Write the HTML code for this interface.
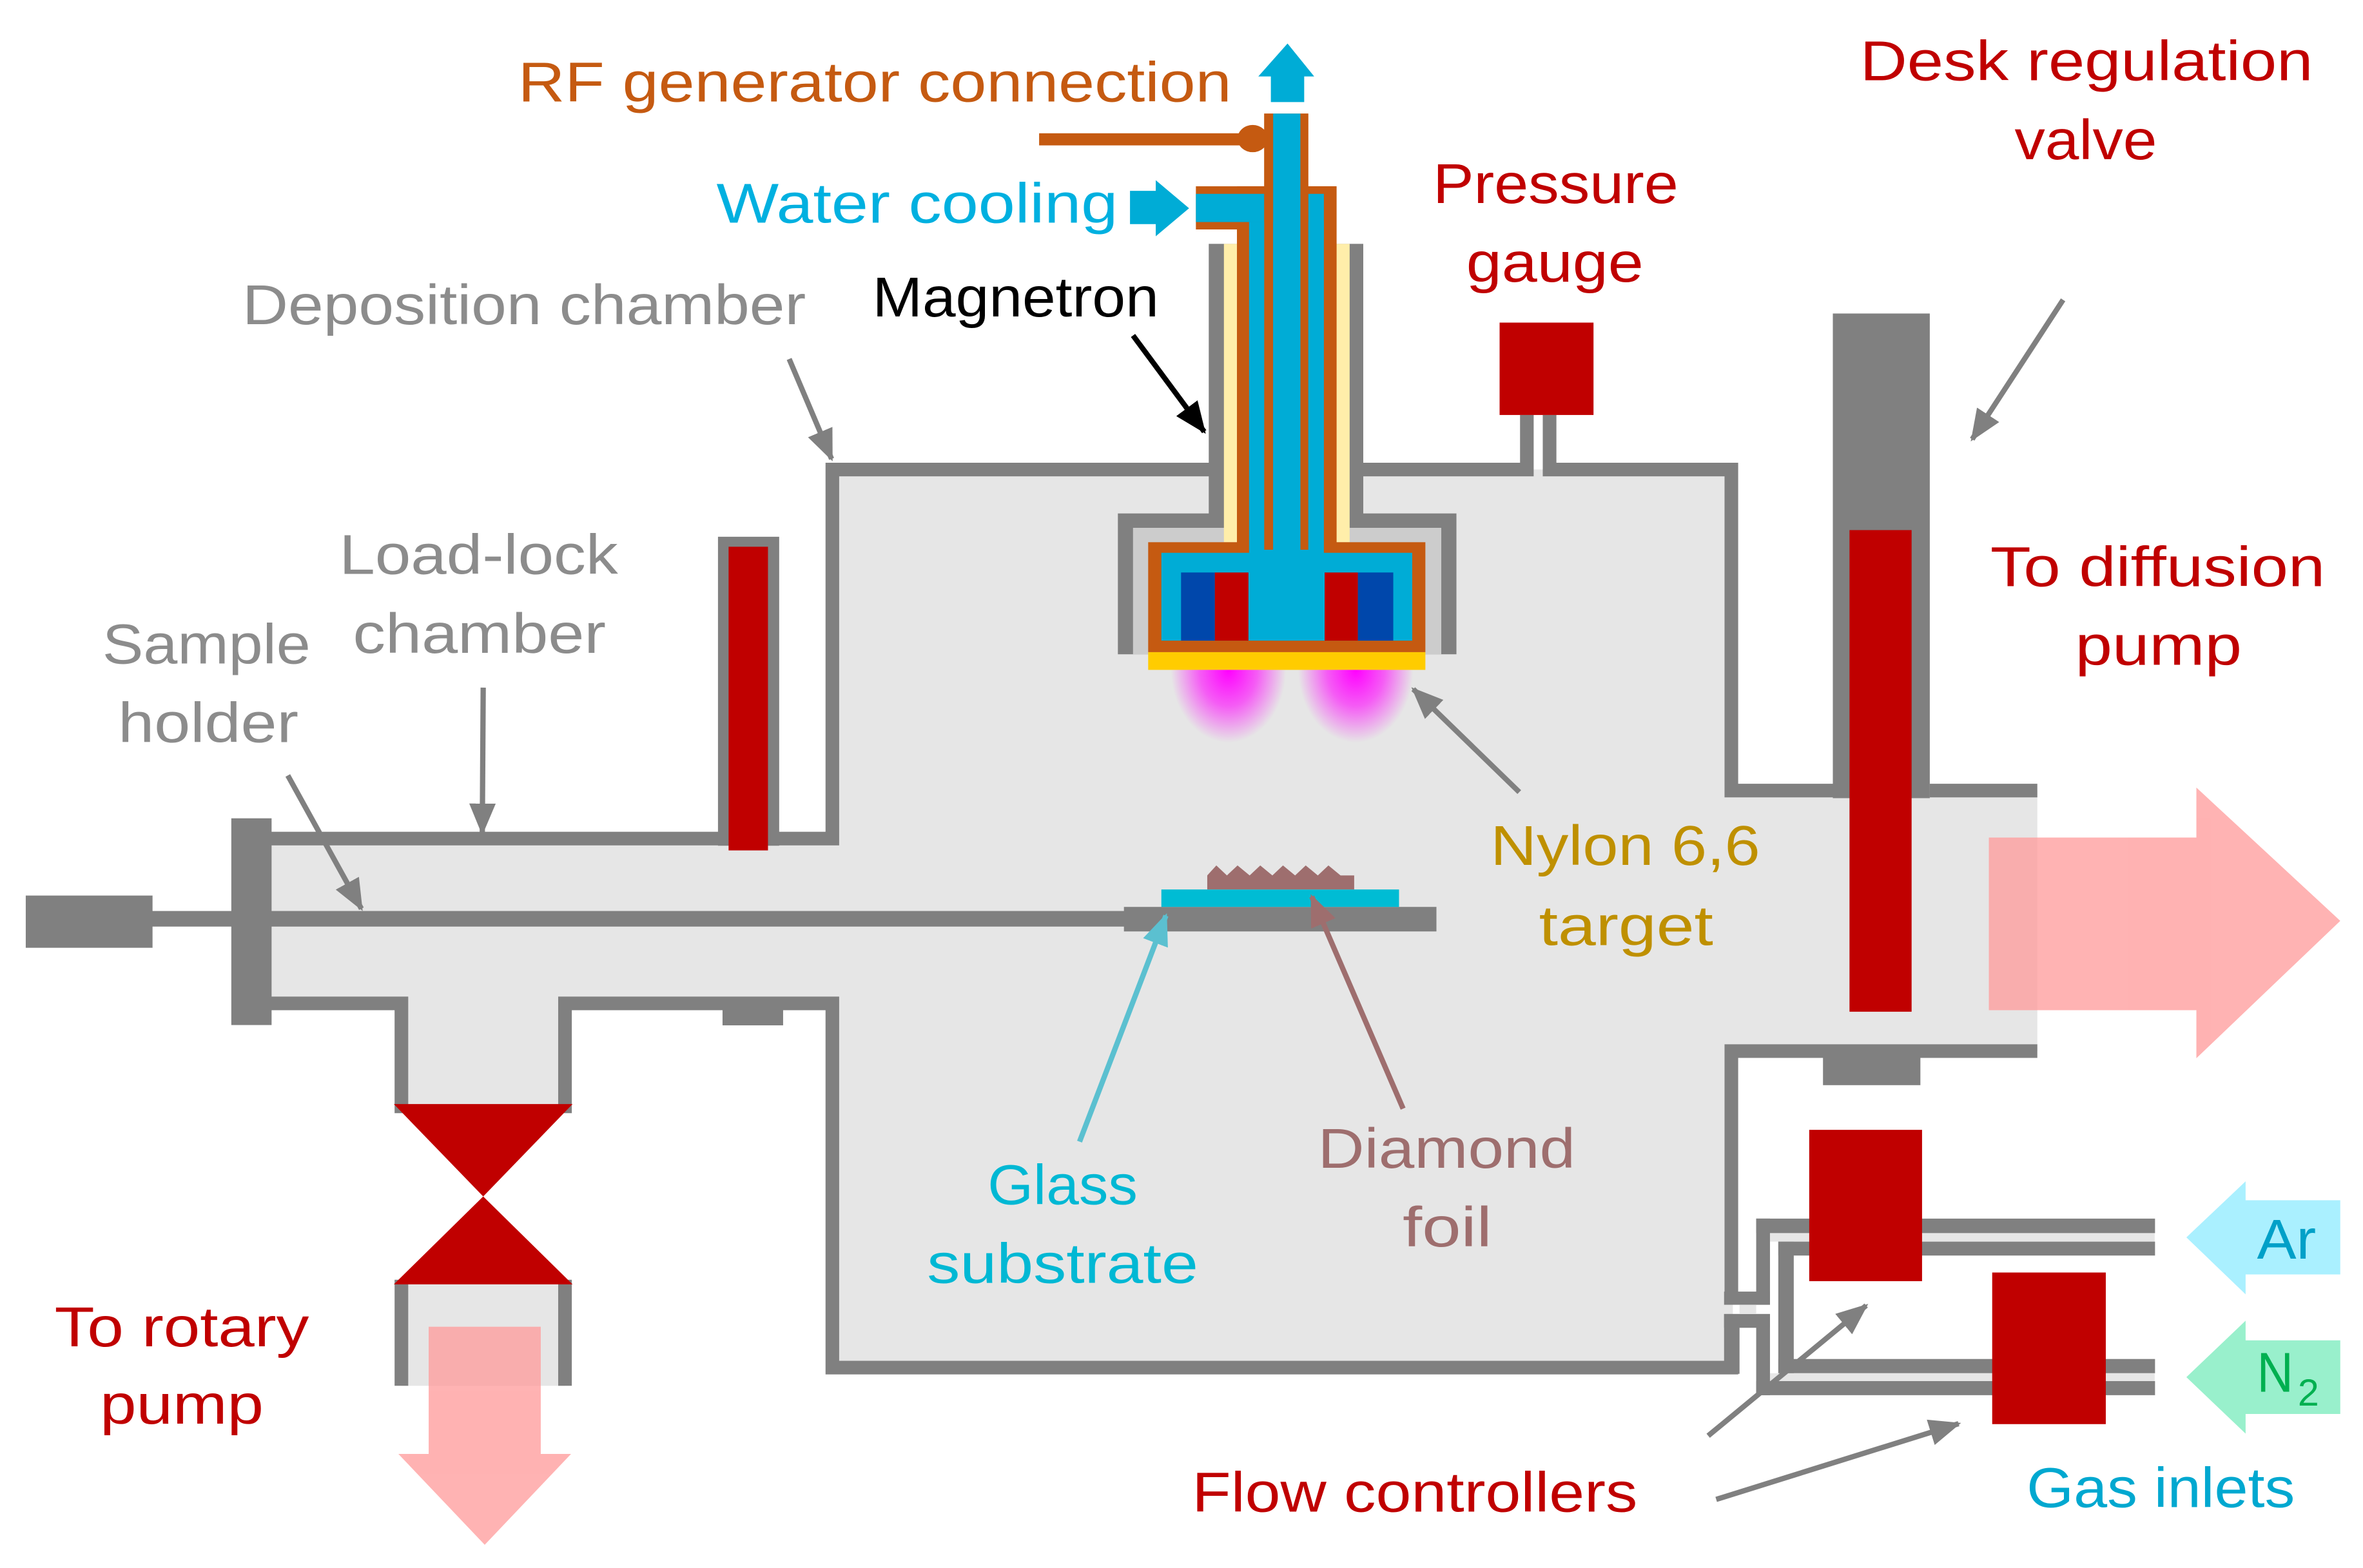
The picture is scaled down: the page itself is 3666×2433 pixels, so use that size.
<!DOCTYPE html>
<html><head><meta charset="utf-8"><style>
html,body{margin:0;padding:0;background:#fff;}
svg{display:block;}
text{font-family:"Liberation Sans",sans-serif;font-size:37px;}
</style></head><body>
<svg width="3666" height="2433" viewBox="0 0 1560 1035.3" preserveAspectRatio="none" xmlns="http://www.w3.org/2000/svg">
<defs>
<marker id="ag" markerWidth="6" markerHeight="5" refX="5.5" refY="2.5" orient="auto"><path d="M0,0 L6,2.5 L0,5 z" fill="#808080"/></marker>
<marker id="ab" markerWidth="6" markerHeight="5" refX="5.5" refY="2.5" orient="auto"><path d="M0,0 L6,2.5 L0,5 z" fill="#000"/></marker>
<marker id="ac" markerWidth="6" markerHeight="5" refX="5.5" refY="2.5" orient="auto"><path d="M0,0 L6,2.5 L0,5 z" fill="#5bc0d0"/></marker>
<marker id="ad" markerWidth="6" markerHeight="5" refX="5.5" refY="2.5" orient="auto"><path d="M0,0 L6,2.5 L0,5 z" fill="#9e6e6e"/></marker>
<radialGradient id="pl" cx="0.5" cy="0" r="0.5" fx="0.5" fy="0">
<stop offset="0" stop-color="#ff00ff" stop-opacity="1"/><stop offset="0.5" stop-color="#ff00ff" stop-opacity="0.6"/><stop offset="1" stop-color="#ff00ff" stop-opacity="0"/></radialGradient>
</defs>

<g fill="#e6e6e6">
<rect x="179" y="553" width="372" height="110"/>
<rect x="549" y="310" width="595" height="593"/>
<rect x="1143" y="522" width="202" height="172"/>
<rect x="265" y="662" width="108" height="73"/>
<rect x="265" y="845" width="108" height="70"/>
</g>

<g fill="none" stroke="#808080" stroke-width="9" stroke-linejoin="miter">
<polyline points="179,553.7 549.5,553.7 549.5,310 803,310"/>
<polyline points="900,310 1008,310 1008,274"/>
<polyline points="1023,274 1023,310 1143,310 1143,522 1210,522"/>
<polyline points="1274,522 1345,522"/>
<polyline points="1345,694 1143,694 1143,857"/>
<polyline points="1143,872 1143,903 549.5,903 549.5,662.5 373,662.5 373,735"/>
<polyline points="265,735 265,662.5 179,662.5"/>
<line x1="265" y1="845" x2="265" y2="915"/>
<line x1="373" y1="845" x2="373" y2="915"/>
</g>
<g fill="#808080">
<rect x="152.7" y="540.3" width="26.6" height="136.5"/>
<rect x="17" y="591.3" width="83.7" height="34.5"/>
<rect x="100" y="601.5" width="650" height="10.3"/>
<rect x="742" y="598.8" width="206.3" height="16.2"/>
<rect x="474" y="354.4" width="40.4" height="204"/>
<rect x="477" y="662" width="40" height="15"/>
<rect x="1210" y="207" width="64" height="320"/>
<rect x="1203.5" y="694" width="64.3" height="22.5"/>
<rect x="1138.2" y="852.8" width="30.3" height="8.7"/>
<rect x="1159.4" y="804.6" width="9.1" height="56.9"/>
<rect x="1159.4" y="804.6" width="263.3" height="9.6"/>
<rect x="1174" y="819.8" width="248.7" height="9.2"/>
<rect x="1174" y="819.8" width="10.2" height="87.3"/>
<rect x="1174" y="897.3" width="248.7" height="9.4"/>
<rect x="1159.4" y="911.9" width="263.3" height="9.3"/>
<rect x="1159.4" y="867.6" width="9.1" height="53.6"/>
<rect x="1138.2" y="867.6" width="30.3" height="9.1"/>
<rect x="1138.2" y="867.6" width="10.2" height="39.5"/>
</g>
<rect x="1168.5" y="814.2" width="254" height="5.6" fill="#e6e6e6"/>
<rect x="1168.5" y="906.7" width="254" height="5.2" fill="#e6e6e6"/>
<rect x="1148.4" y="861.5" width="11" height="6.1" fill="#e6e6e6"/>

<g fill="#c00000">
<rect x="481" y="361" width="26" height="200.5"/>
<rect x="1221" y="350" width="41" height="318"/>
<rect x="990" y="213" width="62" height="61"/>
<polygon points="260,729 378,729 319,790"/>
<polygon points="319,790 378,848 260,848"/>
<rect x="1194.4" y="746" width="74.5" height="99.9"/>
<rect x="1315.2" y="840.2" width="75" height="100.1"/>
</g>

<rect x="766.7" y="587.3" width="156.9" height="11.5" fill="#00bcd4"/>
<polygon points="797,587.3 797,578 803,571.4 810,578 817,571.4 825,578 832,571.4 840,578 847,571.4 855,578 862,571.4 870,578 877,571.4 885,578 894,578 894,587.3" fill="#9e6e6e"/>

<rect x="738" y="339" width="223.5" height="93" fill="#808080"/>
<rect x="798" y="161" width="102" height="187" fill="#808080"/>
<rect x="748" y="348.5" width="203.5" height="83.5" fill="#cccccc"/>
<rect x="808" y="161" width="83" height="197" fill="#ffeeaa"/>
<rect x="758" y="358" width="183" height="72.6" fill="#c55a11"/>
<rect x="816.6" y="123" width="65.8" height="242" fill="#c55a11"/>
<rect x="789.5" y="123" width="92.5" height="28.5" fill="#c55a11"/>
<rect x="834.6" y="75" width="29.1" height="60" fill="#c55a11"/>
<rect x="766.7" y="365" width="165.6" height="58" fill="#00acd6"/>
<rect x="824.6" y="146.6" width="49.4" height="220" fill="#00acd6"/>
<rect x="789.5" y="128" width="45.1" height="18.6" fill="#00acd6"/>
<rect x="863.7" y="128" width="10.3" height="30" fill="#00acd6"/>
<rect x="834.6" y="75" width="5.9" height="288" fill="#c55a11"/>
<rect x="858.5" y="75" width="5.2" height="288" fill="#c55a11"/>
<rect x="840.5" y="75" width="18" height="348" fill="#00acd6"/>
<rect x="779.7" y="378" width="22.3" height="45" fill="#0047ab"/>
<rect x="802" y="378" width="22.2" height="45" fill="#c00000"/>
<rect x="874.5" y="378" width="22" height="45" fill="#c00000"/>
<rect x="896.5" y="378" width="23.3" height="45" fill="#0047ab"/>
<rect x="758" y="430.6" width="183" height="11.7" fill="#ffcc00"/>
<rect x="773" y="442.3" width="76" height="96" fill="url(#pl)"/>
<rect x="857" y="442.3" width="76" height="96" fill="url(#pl)"/>
<rect x="686" y="88" width="144" height="8" fill="#c55a11"/>
<ellipse cx="827" cy="91.5" rx="10" ry="9" fill="#c55a11"/>
<polygon points="839,67.4 861,67.4 861,50.5 867.6,50.5 850,28.7 830.7,50.5 839,50.5" fill="#00acd6"/>
<polygon points="746,126 763,126 763,119 785,137.5 763,156 763,148 746,148" fill="#00acd6"/>

<g fill="#ff9999" opacity="0.75">
<rect x="1313" y="553" width="137" height="114"/>
<polygon points="1450,520 1545,608 1450,698.7"/>
<rect x="283" y="876" width="74" height="84"/>
<polygon points="263,960 377,960 320,1020"/>
</g>
<polygon points="1443.4,817 1482.5,780 1482.5,792.5 1545,792.5 1545,841.5 1482.5,841.5 1482.5,854.6" fill="#aaf0ff"/>
<polygon points="1443.4,909.3 1482.5,872 1482.5,885 1545,885 1545,933.6 1482.5,933.6 1482.5,946.6" fill="#99f0cc"/>

<g stroke-width="3.5" fill="none">
<line x1="521" y1="237" x2="549" y2="303" stroke="#808080" marker-end="url(#ag)"/>
<line x1="748" y1="221.5" x2="795" y2="285" stroke="#000" marker-end="url(#ab)"/>
<line x1="1362" y1="198" x2="1302" y2="290" stroke="#808080" marker-end="url(#ag)"/>
<line x1="1003" y1="523" x2="933" y2="455" stroke="#808080" marker-end="url(#ag)"/>
<line x1="319" y1="454" x2="318.4" y2="549.8" stroke="#808080" marker-end="url(#ag)"/>
<line x1="190" y1="512" x2="238.6" y2="600" stroke="#808080" marker-end="url(#ag)"/>
<line x1="712.7" y1="753.8" x2="769.7" y2="604.6" stroke="#5bc0d0" marker-end="url(#ac)"/>
<line x1="926.3" y1="732" x2="866" y2="592" stroke="#9e6e6e" marker-end="url(#ad)"/>
<line x1="1127.7" y1="948" x2="1232" y2="862" stroke="#808080" marker-end="url(#ag)"/>
<line x1="1133" y1="990" x2="1293" y2="940" stroke="#808080" marker-end="url(#ag)"/>
</g>

<g>
<text x="342" y="67" textLength="471" lengthAdjust="spacingAndGlyphs" fill="#c55a11">RF generator connection</text>
<text x="473" y="147" textLength="265" lengthAdjust="spacingAndGlyphs" fill="#00b0e0">Water cooling</text>
<text x="160" y="214" textLength="372" lengthAdjust="spacingAndGlyphs" fill="#8c8c8c">Deposition chamber</text>
<text x="576" y="209" textLength="189" lengthAdjust="spacingAndGlyphs" fill="#000">Magnetron</text>
<text x="946" y="134" textLength="162" lengthAdjust="spacingAndGlyphs" fill="#c00000">Pressure</text>
<text x="968" y="186" textLength="117" lengthAdjust="spacingAndGlyphs" fill="#c00000">gauge</text>
<text x="1228" y="53" textLength="299" lengthAdjust="spacingAndGlyphs" fill="#c00000">Desk regulation</text>
<text x="1330" y="105" textLength="94" lengthAdjust="spacingAndGlyphs" fill="#c00000">valve</text>
<text x="1314" y="387" textLength="221" lengthAdjust="spacingAndGlyphs" fill="#c00000">To diffusion</text>
<text x="1370" y="439" textLength="110" lengthAdjust="spacingAndGlyphs" fill="#c00000">pump</text>
<text x="224" y="379" textLength="184" lengthAdjust="spacingAndGlyphs" fill="#8c8c8c">Load-lock</text>
<text x="233" y="431" textLength="167" lengthAdjust="spacingAndGlyphs" fill="#8c8c8c">chamber</text>
<text x="67.6" y="438" textLength="137.4" lengthAdjust="spacingAndGlyphs" fill="#8c8c8c">Sample</text>
<text x="78" y="490" textLength="119" lengthAdjust="spacingAndGlyphs" fill="#8c8c8c">holder</text>
<text x="36" y="889" textLength="168" lengthAdjust="spacingAndGlyphs" fill="#c00000">To rotary</text>
<text x="66" y="940" textLength="108" lengthAdjust="spacingAndGlyphs" fill="#c00000">pump</text>
<text x="984" y="571" textLength="178" lengthAdjust="spacingAndGlyphs" fill="#bf9000">Nylon 6,6</text>
<text x="1016" y="624" textLength="115" lengthAdjust="spacingAndGlyphs" fill="#bf9000">target</text>
<text x="652" y="795" textLength="99" lengthAdjust="spacingAndGlyphs" fill="#00b8d4">Glass</text>
<text x="612" y="847" textLength="179" lengthAdjust="spacingAndGlyphs" fill="#00b8d4">substrate</text>
<text x="870" y="771" textLength="170" lengthAdjust="spacingAndGlyphs" fill="#9e6e6e">Diamond</text>
<text x="926" y="823" textLength="59" lengthAdjust="spacingAndGlyphs" fill="#9e6e6e">foil</text>
<text x="787" y="998" textLength="294" lengthAdjust="spacingAndGlyphs" fill="#c00000">Flow controllers</text>
<text x="1338" y="995" textLength="177" lengthAdjust="spacingAndGlyphs" fill="#00a8d0">Gas inlets</text>
<text x="1490" y="831" textLength="39" lengthAdjust="spacingAndGlyphs" fill="#00a0c8">Ar</text>
<text x="1490" y="919" textLength="24" lengthAdjust="spacingAndGlyphs" fill="#00b050">N</text>
<text x="1517" y="928" textLength="14" lengthAdjust="spacingAndGlyphs" fill="#00b050" style="font-size:25px">2</text>
</g>
</svg>
</body></html>
